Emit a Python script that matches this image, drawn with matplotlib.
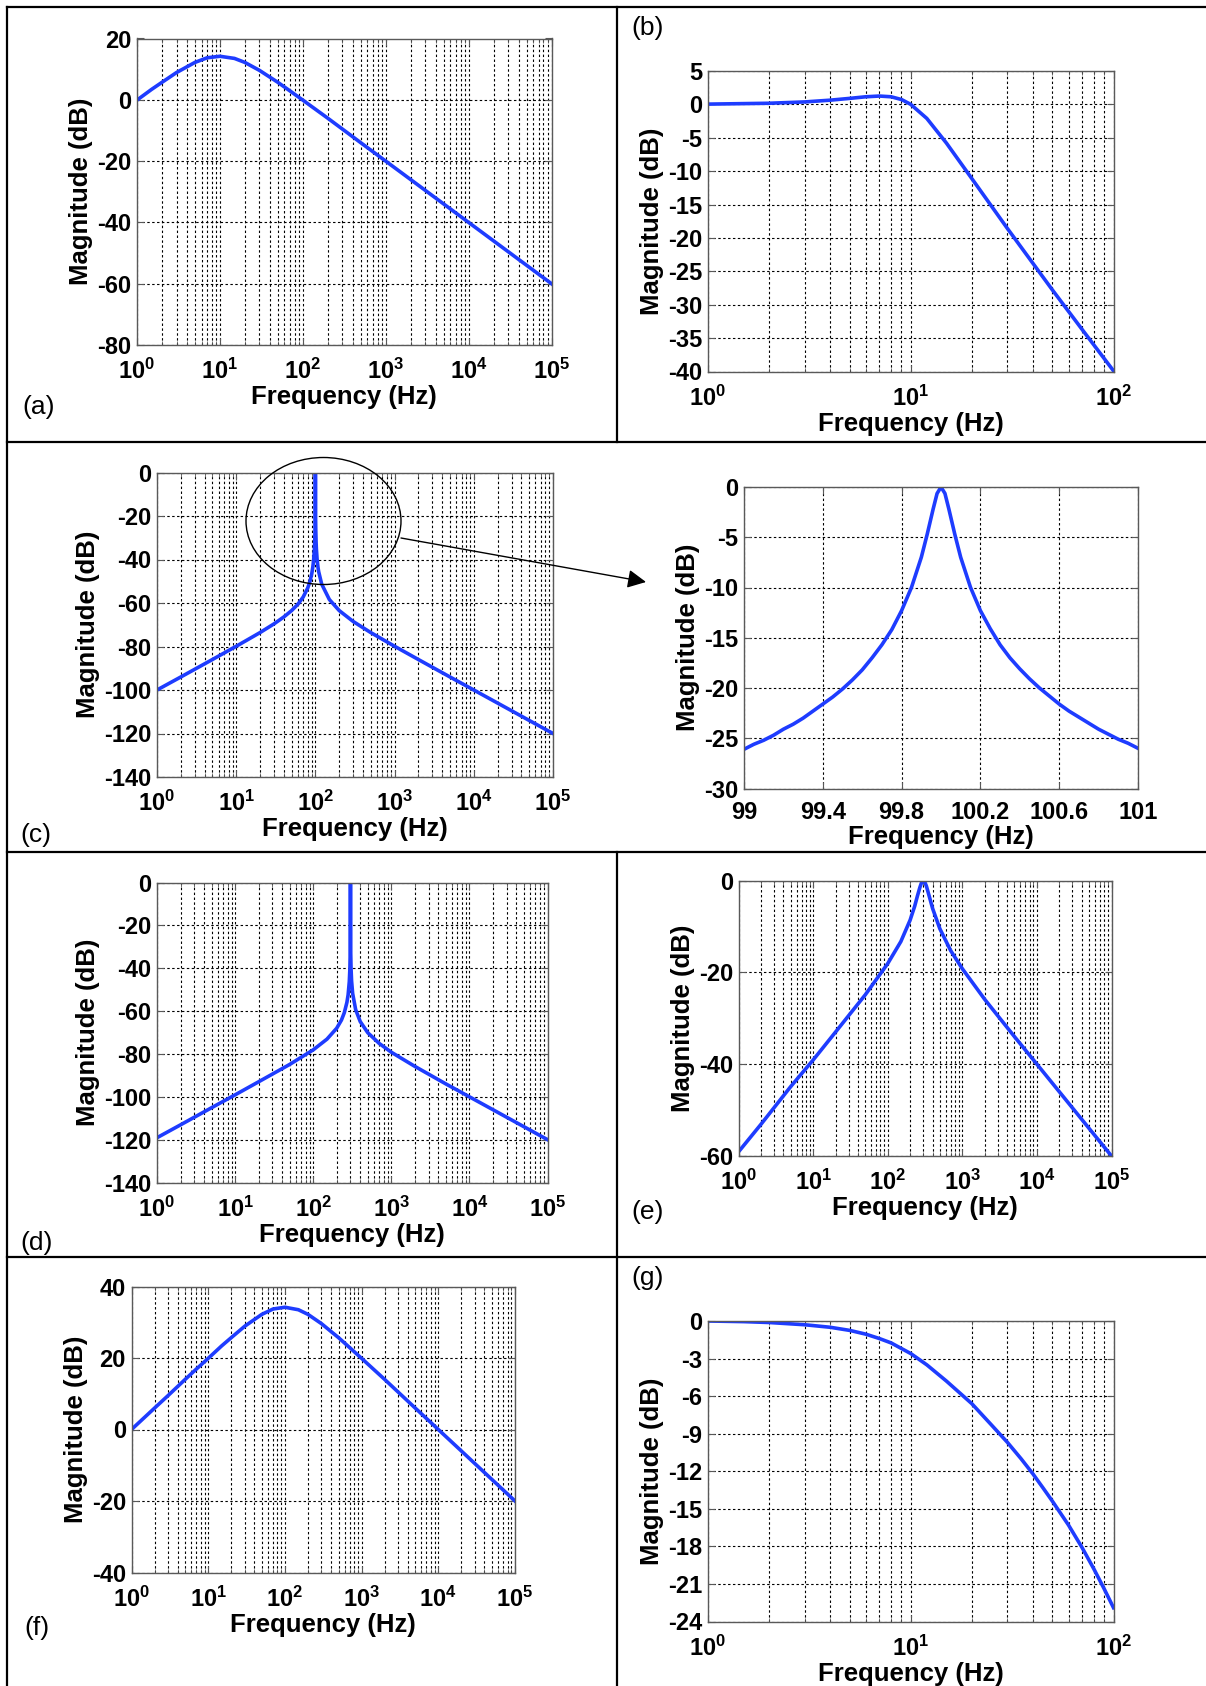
import numpy as np
import matplotlib
matplotlib.use('Agg')
import matplotlib.pyplot as plt
from matplotlib.ticker import LogLocator, NullFormatter
from matplotlib.patches import Ellipse, FancyArrowPatch
from matplotlib.lines import Line2D

plt.rcParams['font.family'] = ['Liberation Sans', 'DejaVu Sans']
plt.rcParams['mathtext.fontset'] = 'custom'
plt.rcParams['mathtext.rm'] = 'Liberation Sans:bold'
plt.rcParams['mathtext.it'] = 'Liberation Sans:bold'
plt.rcParams['mathtext.bf'] = 'Liberation Sans:bold'

# ---- magnitude data, frequency in Hz, magnitude in dB ----
freq_a = [1, 1.5, 2, 3, 5, 7, 10, 15, 20, 30, 50, 70, 100, 200, 500, 1e3, 1e4, 1e5]
mag_a = [-0.1, 3.4, 5.7, 8.9, 12.2, 13.7, 14.2, 13.5, 12.2, 9.6, 5.7, 2.9, -0.1,
         -6.0, -14.0, -20.0, -40.0, -60.0]

freq_b = [1, 2, 3, 4, 5, 6, 7, 8, 9, 10, 12, 15, 20, 30, 50, 70, 100]
mag_b = [0.04, 0.17, 0.37, 0.63, 0.9, 1.14, 1.25, 1.14, 0.73, 0.0, -2.1, -5.8,
         -11.1, -18.6, -27.8, -33.7, -39.9]

freq_c = [1, 2, 5, 10, 20, 30, 40, 50, 60, 70, 80, 85, 90, 93, 95, 97, 98, 99,
          99.5, 99.8, 99.9, 99.95, 100, 100.05, 100.1, 100.2, 100.5, 101, 102, 103,
          105, 108, 110, 120, 150, 200, 300, 500, 1e3, 2e3, 5e3, 1e4, 1e5]
mag_c = [-100.0, -94.0, -86.0, -79.9, -73.6, -69.6, -66.4, -63.5, -60.6, -57.3,
         -53.1, -50.3, -46.5, -43.2, -40.2, -35.7, -32.1, -26.1, -20.1, -12.3, -7.0,
         -3.0, 0.0, -3.0, -7.0, -12.3, -20.0, -26.0, -32.0, -35.4, -39.8, -43.8,
         -45.6, -51.3, -58.4, -63.5, -68.5, -73.6, -79.9, -86.0, -94.0, -100.0, -120.0]

# close-up of the 100 Hz resonance
freq_cz = [99.0, 99.05, 99.1, 99.15, 99.2, 99.25, 99.3, 99.35, 99.4, 99.45, 99.5,
           99.55, 99.6, 99.65, 99.7, 99.75, 99.8, 99.85, 99.9, 99.93, 99.96, 99.98,
           100.0, 100.02, 100.04, 100.07, 100.1, 100.15, 100.2, 100.25, 100.3, 100.35,
           100.4, 100.45, 100.5, 100.55, 100.6, 100.65, 100.7, 100.75, 100.8, 100.85,
           100.9, 100.95, 101.0]
mag_cz = [-26.1, -25.6, -25.2, -24.7, -24.1, -23.6, -23.0, -22.3, -21.6, -20.9, -20.1,
          -19.2, -18.2, -17.0, -15.7, -14.2, -12.3, -10.0, -7.0, -4.7, -2.2, -0.65,
          0.0, -0.64, -2.2, -4.7, -7.0, -10.0, -12.3, -14.1, -15.7, -17.0, -18.1,
          -19.1, -20.0, -20.8, -21.6, -22.3, -22.9, -23.5, -24.1, -24.6, -25.1, -25.5,
          -26.0]

freq_d = [1, 2, 5, 10, 20, 50, 100, 150, 200, 230, 250, 270, 280, 290, 295, 298, 299,
          299.5, 299.8, 300, 300.2, 300.5, 301, 302, 305, 310, 320, 350, 400, 500, 700,
          1e3, 2e3, 5e3, 1e4, 1e5]
mag_d = [-119.1, -113.1, -105.1, -99.1, -93.0, -84.9, -78.1, -73.1, -68.0, -64.2,
         -60.8, -56.0, -52.4, -46.2, -40.1, -32.1, -26.0, -20.0, -12.0, 0.0, -12.0,
         -20.0, -26.0, -32.0, -39.9, -45.9, -51.8, -59.4, -64.9, -70.1, -75.1, -79.2,
         -85.8, -94.0, -100.0, -120.0]

freq_e = [1, 2, 5, 10, 20, 50, 100, 150, 200, 230, 250, 270, 285, 300, 315, 330, 360,
          400, 500, 700, 1e3, 2e3, 5e3, 1e4, 1e5]
mag_e = [-59.1, -53.1, -44.9, -39.1, -33.0, -24.9, -18.1, -13.3, -8.6, -5.6, -3.4,
         -1.5, -0.4, 0.0, -0.4, -1.2, -3.4, -6.1, -10.5, -15.3, -19.2, -25.9, -34.0,
         -40.0, -60.0]

freq_f = [1, 2, 3, 5, 7, 10, 15, 20, 30, 50, 70, 100, 150, 200, 300, 500, 700, 1e3,
          2e3, 5e3, 1e4, 1e5]
mag_f = [0.0, 6.0, 9.5, 14.0, 16.9, 19.9, 23.4, 25.7, 28.9, 32.2, 33.7, 34.2, 33.5,
         32.2, 29.6, 25.7, 22.9, 19.9, 14.0, 6.0, 0.0, -20.0]

freq_g = [1, 1.5, 2, 3, 4, 5, 6, 7, 8, 10, 12, 15, 20, 25, 30, 35, 40, 45, 50, 60,
          70, 80, 90, 100]
mag_g = [0.0, -0.05, -0.12, -0.3, -0.5, -0.75, -1.05, -1.4, -1.75, -2.6, -3.5, -4.8,
         -6.6, -8.3, -9.7, -11.0, -12.2, -13.35, -14.4, -16.3, -18.1, -19.8, -21.4,
         -22.9]

# ---- axis ticks ----
dec5 = [1, 10, 100, 1e3, 1e4, 1e5]
dec5_labels = [r'$10^{0}$', r'$10^{1}$', r'$10^{2}$', r'$10^{3}$', r'$10^{4}$', r'$10^{5}$']
dec2 = [1, 10, 100]
dec2_labels = [r'$10^{0}$', r'$10^{1}$', r'$10^{2}$']
lin_cz = [99, 99.4, 99.8, 100.2, 100.6, 101]
lin_cz_labels = ['99', '99.4', '99.8', '100.2', '100.6', '101']

W, H = 1206., 1686.
BLUE = '#1e3cff'
TICKFS = 17
LABFS = 18.5

fig = plt.figure(figsize=(W / 100, H / 100), dpi=100)


def rect(x0, y0, x1, y1):
    return [x0 / W, 1 - y1 / H, (x1 - x0) / W, (y1 - y0) / H]


def panel(pos, f, m, xt, xtl, ylim, yt, logx=True):
    ax = fig.add_axes(rect(*pos))
    ax.plot(f, m, color=BLUE, lw=2.6, solid_joinstyle='round')
    if logx:
        ax.set_xscale('log')
        ax.xaxis.set_minor_locator(LogLocator(base=10, subs=np.arange(2, 10), numticks=100))
        ax.xaxis.set_minor_formatter(NullFormatter())
    ax.set_xlim(xt[0], xt[-1])
    ax.set_ylim(*ylim)
    ax.set_xticks(xt)
    ax.set_xticklabels(xtl)
    ax.set_yticks(yt)
    ax.set_yticklabels(['%g' % v for v in yt])
    gs = dict(color='k', linestyle=(0, (2.2, 2.2)), linewidth=0.8)
    ax.grid(True, which='major', **gs)
    if logx:
        ax.grid(True, which='minor', axis='x', **gs)
    for s in ax.spines.values():
        s.set_color('0.35')
        s.set_linewidth(1.0)
    ax.tick_params(which='both', direction='in', top=True, right=True, color='0.35')
    ax.tick_params(which='major', length=5, labelsize=TICKFS)
    ax.tick_params(which='minor', length=3)
    ax.tick_params(axis='x', pad=10 if logx else 9)
    ax.tick_params(axis='y', pad=4)
    for t in ax.get_xticklabels() + ax.get_yticklabels():
        t.set_fontweight('bold')
    ax.set_xlabel('Frequency (Hz)', fontsize=LABFS, fontweight='bold', labelpad=1)
    ax.set_ylabel('Magnitude (dB)', fontsize=LABFS, fontweight='bold', labelpad=3)
    return ax


panel((137, 38.5, 551.5, 345), freq_a, mag_a, dec5, dec5_labels, (-80, 20),
      [-80, -60, -40, -20, 0, 20])
panel((708, 71, 1113.5, 371.5), freq_b, mag_b, dec2, dec2_labels, (-40, 5),
      list(range(-40, 6, 5)))
panel((157, 472.5, 553, 777), freq_c, mag_c, dec5, dec5_labels, (-140, 0),
      list(range(-140, 1, 20)))
panel((744, 487, 1138, 788.5), freq_cz, mag_cz, lin_cz, lin_cz_labels, (-30, 0),
      list(range(-30, 1, 5)), logx=False)
panel((157, 882.5, 547.5, 1182.5), freq_d, mag_d, dec5, dec5_labels, (-140, 0),
      list(range(-140, 1, 20)))
panel((738.5, 880.5, 1111.5, 1156), freq_e, mag_e, dec5, dec5_labels, (-60, 0),
      [-60, -40, -20, 0])
panel((131.5, 1286.5, 515, 1572.5), freq_f, mag_f, dec5, dec5_labels, (-40, 40),
      [-40, -20, 0, 20, 40])
panel((708, 1321, 1113.5, 1621.5), freq_g, mag_g, dec2, dec2_labels, (-24, 0),
      list(range(-24, 1, 3)))

# table rules
def rule(x0, y0, x1, y1):
    fig.add_artist(Line2D([x0 / W, x1 / W], [1 - y0 / H, 1 - y1 / H],
                          transform=fig.transFigure, color='k', lw=1.6))

rule(7, 7, W, 7)
rule(7, 442, W, 442)
rule(7, 852, W, 852)
rule(7, 1257, W, 1257)
rule(7, 7, 7, H)
rule(617, 7, 617, 442)
rule(617, 852, 617, H)

# panel letters
letters = [('(a)', 22, 407), ('(b)', 631, 28), ('(c)', 20, 835), ('(d)', 20, 1243),
           ('(e)', 631, 1212), ('(f)', 24, 1628), ('(g)', 631, 1278)]
for s, x, y in letters:
    fig.text(x / W, 1 - y / H, s, fontsize=19, ha='left', va='center')

# zoom marker on the resonance in (c)
fig.add_artist(Ellipse((323.5 / W, 1 - 521 / H), 155 / W, 127 / H, fill=False,
                       edgecolor='k', lw=1.0, transform=fig.transFigure))
fig.add_artist(FancyArrowPatch((401 / W, 1 - 538 / H), (646 / W, 1 - 582 / H),
                               transform=fig.transFigure, arrowstyle='-|>',
                               mutation_scale=28, color='k', lw=1.0,
                               shrinkA=0, shrinkB=0))

fig.savefig('out.png', dpi=100, facecolor='white')
